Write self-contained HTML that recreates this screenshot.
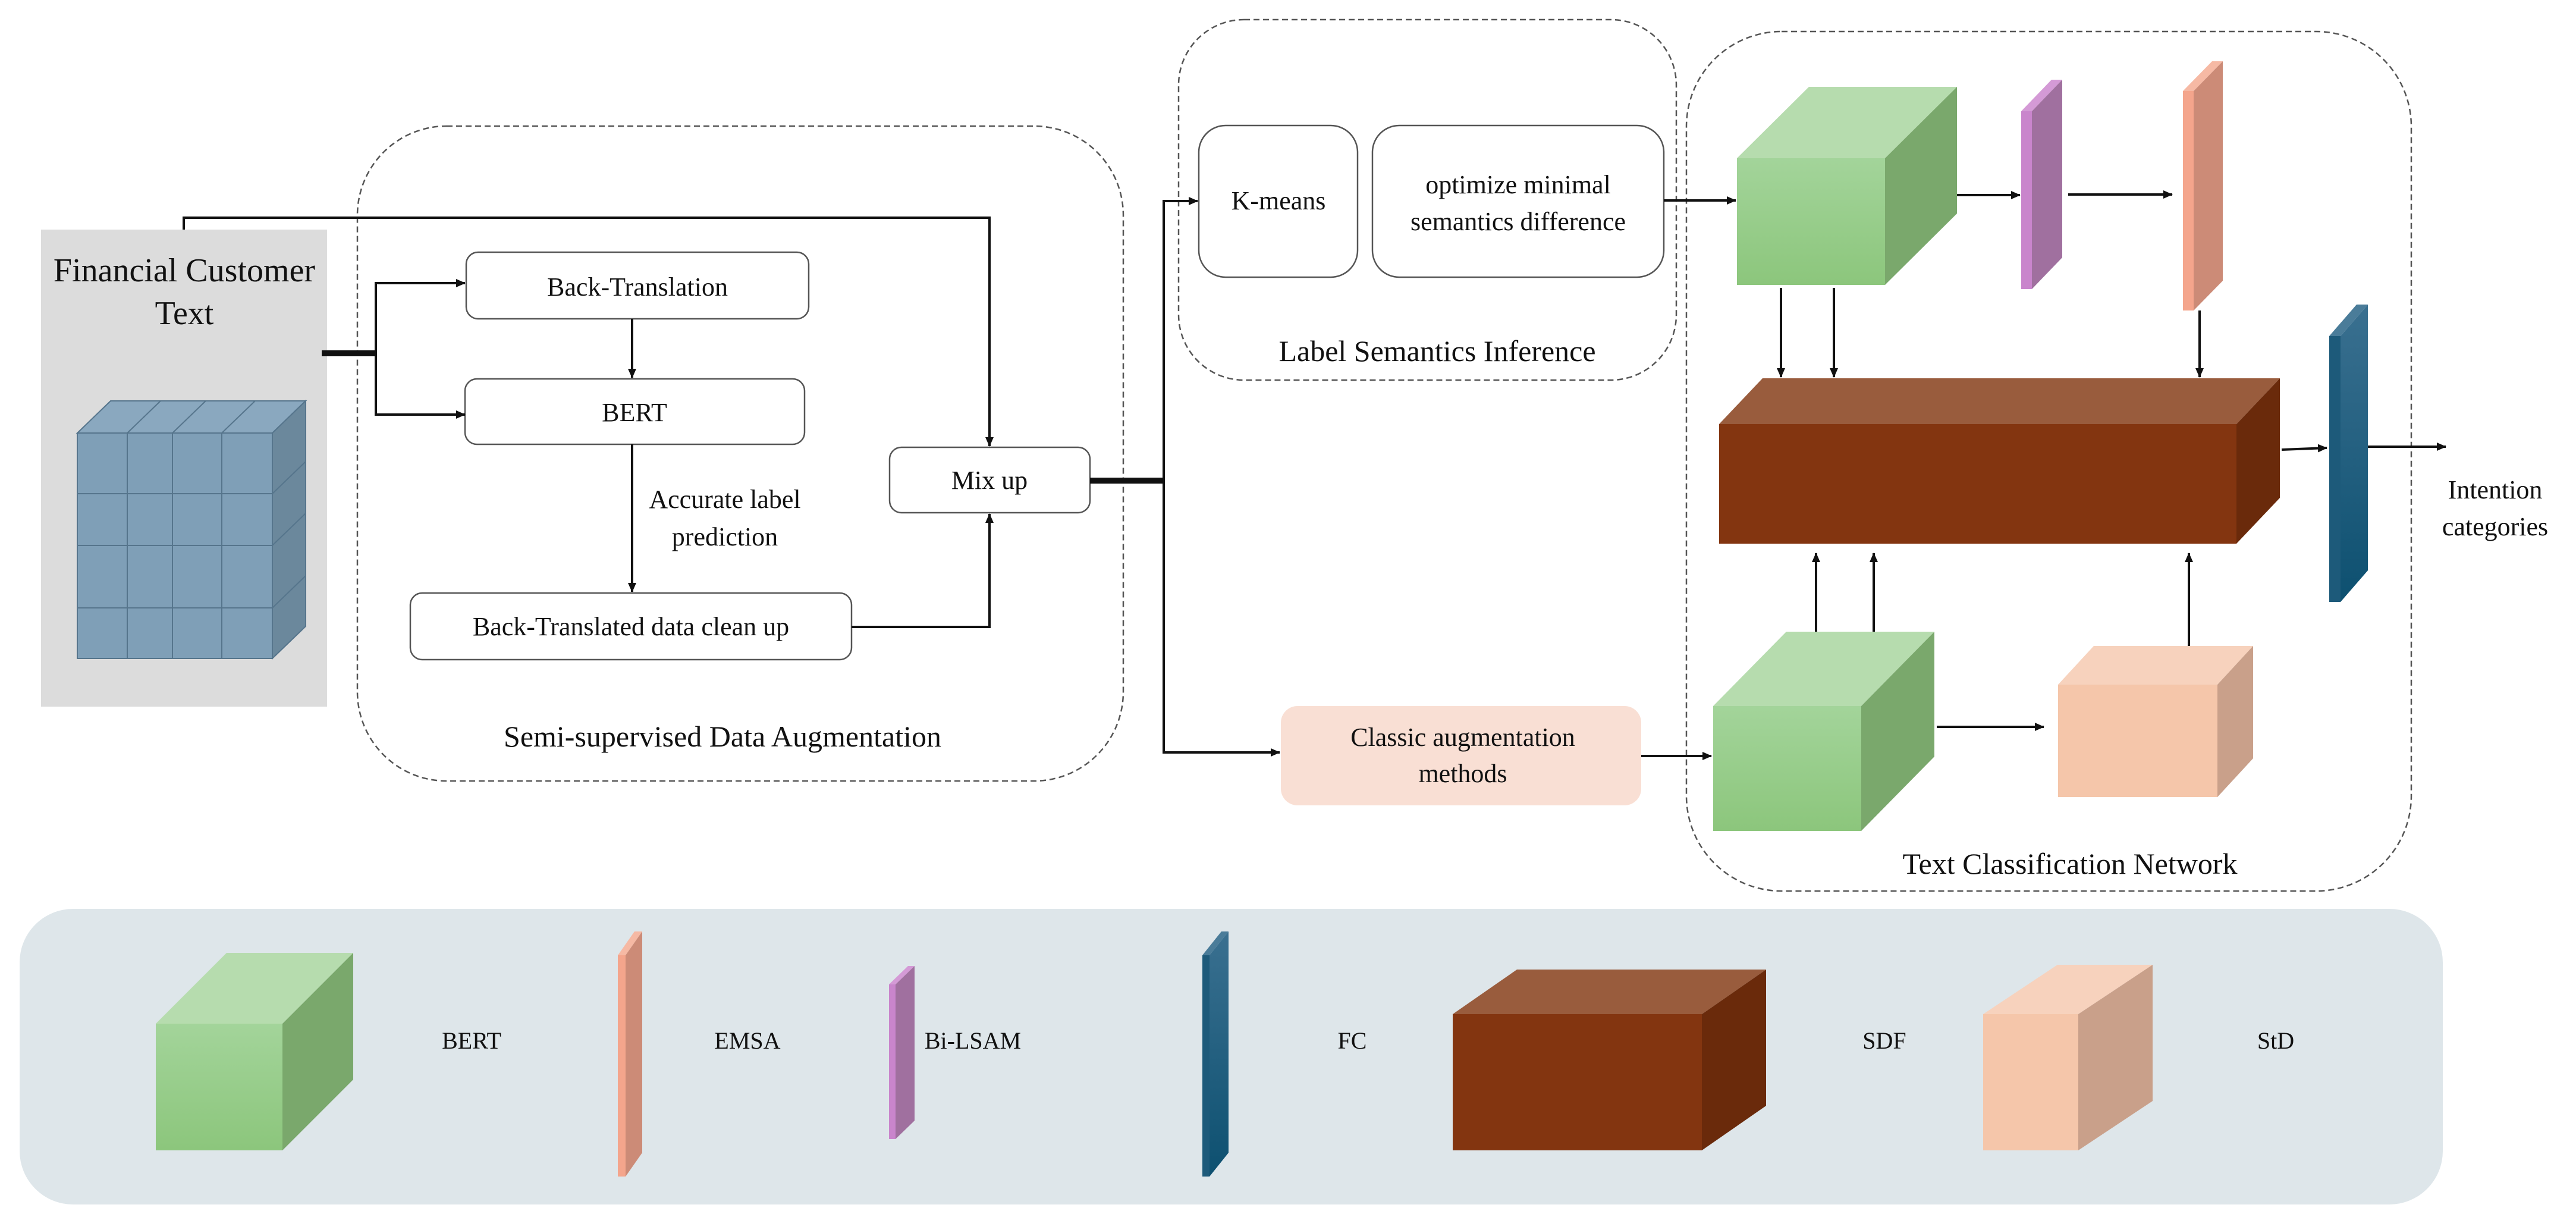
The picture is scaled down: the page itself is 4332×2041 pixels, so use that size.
<!DOCTYPE html>
<html><head><meta charset="utf-8"><style>html,body{margin:0;padding:0;background:#fff}svg{display:block}svg text{font-family:"Liberation Serif",serif;fill:#111}</style></head>
<body>
<svg width="4332" height="2041" viewBox="0 0 4332 2041" xmlns="http://www.w3.org/2000/svg" font-family="'Liberation Serif', serif">
<defs>
<marker id="b" markerWidth="16" markerHeight="14" refX="15" refY="7" orient="auto" markerUnits="userSpaceOnUse"><path d="M0,0 L16,7 L0,14 z" fill="#111"/></marker>
<linearGradient id="gf" x1="0" y1="0" x2="0" y2="1"><stop offset="0" stop-color="#a3d49a"/><stop offset="1" stop-color="#8cc67c"/></linearGradient>
<linearGradient id="fc" x1="0" y1="0" x2="0" y2="1"><stop offset="0" stop-color="#3a7090"/><stop offset="1" stop-color="#0d5070"/></linearGradient>
</defs>
<rect x="69" y="386" width="481" height="802" fill="#dcdcdc"/>
<g font-family="'Liberation Serif', serif" fill="#111">
<text x="310" y="473" font-size="56" text-anchor="middle">Financial Customer</text>
<text x="310" y="545" font-size="56" text-anchor="middle">Text</text>
</g>
<g stroke="#56758c" stroke-width="2">
<polygon points="130,728 186,674 514,674 458,728" fill="#8aa8bf"/>
<polygon points="458,728 514,674 514,1053 458,1107" fill="#6b889c"/>
<rect x="130" y="728" width="328" height="379" fill="#7f9fb7"/>
<line x1="214" y1="728" x2="214" y2="1107"/><line x1="290" y1="728" x2="290" y2="1107"/><line x1="373" y1="728" x2="373" y2="1107"/>
<line x1="130" y1="830" x2="458" y2="830"/><line x1="130" y1="917" x2="458" y2="917"/><line x1="130" y1="1022" x2="458" y2="1022"/>
<line x1="214" y1="728" x2="270" y2="674"/><line x1="290" y1="728" x2="346" y2="674"/><line x1="373" y1="728" x2="429" y2="674"/>
<line x1="458" y1="830" x2="514" y2="776"/><line x1="458" y1="917" x2="514" y2="863"/><line x1="458" y1="1022" x2="514" y2="968"/>
</g>
<g fill="none" stroke="#555" stroke-width="2.5" stroke-dasharray="10,6">
<rect x="601" y="212" width="1288" height="1101" rx="150"/>
<rect x="1982" y="33" width="837" height="606" rx="110"/>
<rect x="2836" y="53" width="1219" height="1445" rx="160"/>
</g>
<g font-family="'Liberation Serif', serif" fill="#111" font-size="50" text-anchor="middle">
<text x="1215" y="1255">Semi-supervised Data Augmentation</text>
<text x="2417" y="607">Label Semantics Inference</text>
<text x="3481" y="1469">Text Classification Network</text>
</g>
<g fill="#fff" stroke="#555" stroke-width="2.5">
<rect x="784" y="424" width="576" height="112" rx="20"/>
<rect x="782" y="637" width="571" height="110" rx="20"/>
<rect x="690" y="997" width="742" height="112" rx="20"/>
<rect x="1496" y="752" width="337" height="110" rx="20"/>
<rect x="2016" y="211" width="267" height="255" rx="45"/>
<rect x="2308" y="211" width="490" height="255" rx="45"/>
</g>
<rect x="2154" y="1187" width="606" height="167" rx="28" fill="#f9dfd4"/>
<g font-family="'Liberation Serif', serif" fill="#111" font-size="44" text-anchor="middle">
<text x="1072" y="497">Back-Translation</text>
<text x="1067" y="708">BERT</text>
<text x="1061" y="1068">Back-Translated data clean up</text>
<text x="1664" y="822">Mix up</text>
<text x="2150" y="352">K-means</text>
<text x="2553" y="325">optimize minimal</text>
<text x="2553" y="387">semantics difference</text>
<text x="1219" y="854">Accurate label</text>
<text x="1219" y="917">prediction</text>
<text x="2460" y="1254">Classic augmentation</text>
<text x="2460" y="1315">methods</text>
<text x="4196" y="838">Intention</text>
<text x="4196" y="900">categories</text>
</g>
<g stroke="#111" stroke-width="4" fill="none">
<polyline points="309,386 309,366 1664,366 1664,750" marker-end="url(#b)"/>
<line x1="541" y1="594" x2="632" y2="594" stroke-width="10"/>
<polyline points="782,476 632,476 632,697 782,697" marker-end="url(#b)"/>
<line x1="632" y1="476" x2="782" y2="476" marker-end="url(#b)"/>
<line x1="1063" y1="536" x2="1063" y2="635" marker-end="url(#b)"/>
<line x1="1063" y1="747" x2="1063" y2="995" marker-end="url(#b)"/>
<polyline points="1432,1054 1664,1054 1664,864" marker-end="url(#b)"/>
<line x1="1833" y1="808" x2="1957" y2="808" stroke-width="10"/>
<polyline points="2014,338 1957,338 1957,1265 2152,1265"/>
<line x1="1957" y1="338" x2="2014" y2="338" marker-end="url(#b)"/>
<line x1="1957" y1="1265" x2="2152" y2="1265" marker-end="url(#b)"/>
<line x1="2798" y1="337" x2="2919" y2="337" marker-end="url(#b)"/>
<line x1="3291" y1="328" x2="3397" y2="328" marker-end="url(#b)"/>
<line x1="3478" y1="327" x2="3653" y2="327" marker-end="url(#b)"/>
<line x1="2995" y1="484" x2="2995" y2="634" marker-end="url(#b)"/>
<line x1="3084" y1="484" x2="3084" y2="634" marker-end="url(#b)"/>
<line x1="3699" y1="522" x2="3699" y2="634" marker-end="url(#b)"/>
<line x1="3054" y1="1062" x2="3054" y2="930" marker-end="url(#b)"/>
<line x1="3151" y1="1062" x2="3151" y2="930" marker-end="url(#b)"/>
<line x1="3681" y1="1086" x2="3681" y2="930" marker-end="url(#b)"/>
<line x1="3837" y1="756" x2="3913" y2="753" marker-end="url(#b)"/>
<line x1="3982" y1="751" x2="4113" y2="751" marker-end="url(#b)"/>
<line x1="2760" y1="1271" x2="2878" y2="1271" marker-end="url(#b)"/>
<line x1="3257" y1="1222" x2="3437" y2="1222" marker-end="url(#b)"/>
</g>
<g>
<polygon points="2921,266 3042,146 3291,146 3170,266" fill="#b6dcae"/>
<polygon points="3170,266 3291,146 3291,359 3170,479" fill="#7aa86c"/>
<rect x="2921" y="266" width="249" height="213" fill="url(#gf)"/>
<polygon points="2881,1187 3004,1062 3253,1062 3130,1187" fill="#b6dcae"/>
<polygon points="3130,1187 3253,1062 3253,1272 3130,1397" fill="#7aa86c"/>
<rect x="2881" y="1187" width="249" height="210" fill="url(#gf)"/>
<polygon points="3399,187 3450,134 3468,134 3417,187" fill="#d49ad6"/>
<polygon points="3417,187 3468,134 3468,433 3417,486" fill="#a0709f"/>
<rect x="3399" y="187" width="18" height="299" fill="#c985cc"/>
<polygon points="3671,153 3720,103 3738,103 3689,153" fill="#f6b9a4"/>
<polygon points="3689,153 3738,103 3738,472 3689,522" fill="#cc8b77"/>
<rect x="3671" y="153" width="18" height="369" fill="#f4a58c"/>
<polygon points="2891,713 2964,636 3834,636 3761,713" fill="#995c3d"/>
<polygon points="3761,713 3834,636 3834,837 3761,914" fill="#6a2a0b"/>
<rect x="2891" y="713" width="870" height="201" fill="#833510"/>
<polygon points="3917,565 3963,512 3982,512 3936,565" fill="#4a7c99"/>
<polygon points="3936,565 3982,512 3982,959 3936,1012" fill="url(#fc)"/>
<rect x="3917" y="565" width="19" height="447" fill="#1d5a7a"/>
<polygon points="3461,1151 3521,1086 3789,1086 3729,1151" fill="#f7d2bd"/>
<polygon points="3729,1151 3789,1086 3789,1275 3729,1340" fill="#c9a08a"/>
<rect x="3461" y="1151" width="268" height="189" fill="#f5c6aa"/>
</g>
<rect x="33" y="1528" width="4075" height="497" rx="90" fill="#dee6ea"/>
<g>
<polygon points="262,1721 381,1602 594,1602 475,1721" fill="#b6dcae"/>
<polygon points="475,1721 594,1602 594,1815 475,1934" fill="#7aa86c"/>
<rect x="262" y="1721" width="213" height="213" fill="url(#gf)"/>
<polygon points="1039,1606 1067,1566 1080,1566 1052,1606" fill="#f6b9a4"/>
<polygon points="1052,1606 1080,1566 1080,1938 1052,1978" fill="#cc8b77"/>
<rect x="1039" y="1606" width="13" height="372" fill="#f4a58c"/>
<polygon points="1495,1655 1527,1624 1538,1624 1506,1655" fill="#d49ad6"/>
<polygon points="1506,1655 1538,1624 1538,1884 1506,1915" fill="#a0709f"/>
<rect x="1495" y="1655" width="11" height="260" fill="#c985cc"/>
<polygon points="2022,1606 2054,1566 2066,1566 2034,1606" fill="#4a7c99"/>
<polygon points="2034,1606 2066,1566 2066,1938 2034,1978" fill="url(#fc)"/>
<rect x="2022" y="1606" width="12" height="372" fill="#1d5a7a"/>
<polygon points="2443,1705 2551,1630 2970,1630 2862,1705" fill="#995c3d"/>
<polygon points="2862,1705 2970,1630 2970,1859 2862,1934" fill="#6a2a0b"/>
<rect x="2443" y="1705" width="419" height="229" fill="#833510"/>
<polygon points="3335,1705 3460,1622 3620,1622 3495,1705" fill="#f7d2bd"/>
<polygon points="3495,1705 3620,1622 3620,1851 3495,1934" fill="#c9a08a"/>
<rect x="3335" y="1705" width="160" height="229" fill="#f5c6aa"/>
</g>
<g font-family="'Liberation Serif', serif" fill="#111" font-size="40" text-anchor="middle">
<text x="793" y="1763">BERT</text>
<text x="1257" y="1763">EMSA</text>
<text x="1636" y="1763">Bi-LSAM</text>
<text x="2274" y="1763">FC</text>
<text x="3169" y="1763">SDF</text>
<text x="3827" y="1763">StD</text>
</g>
</svg>
</body></html>
